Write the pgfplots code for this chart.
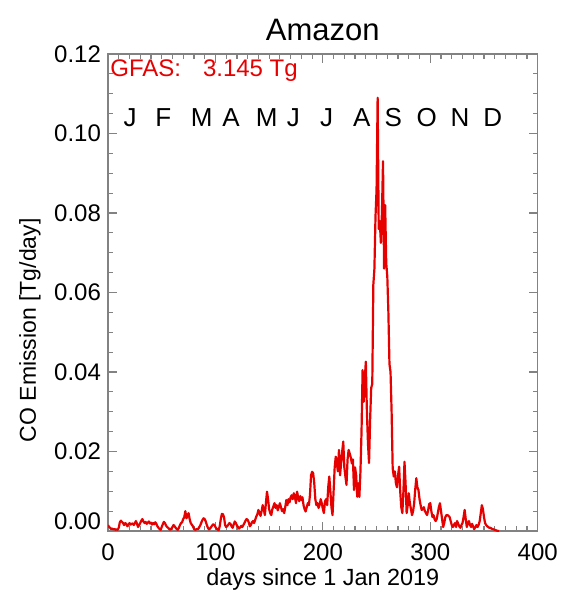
\documentclass[border=0pt]{standalone}
\usepackage{fontspec}
\setmainfont{Liberation Sans}
\usepackage{pgfplots}
\pgfplotsset{compat=1.18}
\definecolor{idlred}{RGB}{230,0,0}
\definecolor{framegray}{RGB}{130,130,130}
\begin{document}
\begin{tikzpicture}
\begin{axis}[
  scale only axis=true,
  width=214.85pt, height=238.5pt,
  xmin=0, xmax=400, ymin=0, ymax=0.12,
  xtick={0,100,200,300,400},
  ytick={0,0.02,0.04,0.06,0.08,0.10,0.12},
  yticklabels={\raisebox{5pt}[\height][\depth]{0.00},0.02,0.04,0.06,0.08,0.10,0.12},
  scaled y ticks=false, scaled x ticks=false,
  minor x tick num=9, minor y tick num=3,
  tick align=inside,
  major tick length=4.5pt, minor tick length=2.5pt,
  axis line style={framegray, line width=0.6pt},
  every tick/.style={framegray, line width=0.6pt},
  /pgf/number format/assume math mode=true,
  tick label style={font=\fontsize{12}{14}\selectfont, black},
  xticklabel style={yshift=-3pt},
  title={Amazon},
  title style={anchor=base, yshift=0.7pt, font=\fontsize{15.5}{18}\selectfont},
  xlabel={days since 1 Jan 2019},
  xlabel style={at={(axis description cs:0.5,0)}, anchor=base, yshift=-27pt, font=\fontsize{11.7}{14}\selectfont},
  ylabel={CO Emission [Tg/day]},
  ylabel style={at={(axis description cs:-0.1815,0.421)}, anchor=center, rotate=0, font=\fontsize{11.5}{14}\selectfont},
  clip=true,
]
\addplot[idlred, line width=1.1pt, no marks, line join=round] coordinates {
(0,0.0015)(1,0.0010)(2,0.0008)(3,0.0005)(4,0.0006)(5,0.0004)(6,0.0005)(7,0.0003)(8,0.0004)(9,0.0003)
(10,0.0008)(11,0.0022)(12,0.0026)(13,0.0023)(14,0.0020)(15,0.0015)(16,0.0020)(17,0.0018)(18,0.0012)(19,0.0015)
(20,0.0020)(21,0.0016)(22,0.0018)(23,0.0019)(24,0.0015)(25,0.0020)(26,0.0025)(27,0.0018)(28,0.0010)(29,0.0015)
(30,0.0020)(31,0.0026)(32,0.0030)(33,0.0024)(34,0.0020)(35,0.0023)(36,0.0018)(37,0.0021)(38,0.0024)(39,0.0019)
(40,0.0021)(41,0.0016)(42,0.0020)(43,0.0017)(44,0.0022)(45,0.0018)(46,0.0012)(47,0.0008)(48,0.0005)(49,0.0003)
(50,0.0010)(51,0.0017)(52,0.0023)(53,0.0020)(54,0.0014)(55,0.0010)(56,0.0008)(57,0.0005)(58,0.0003)(59,0.0006)
(60,0.0010)(61,0.0015)(62,0.0012)(63,0.0008)(64,0.0005)(65,0.0003)(66,0.0008)(67,0.0015)(68,0.0020)(69,0.0022)
(70,0.0030)(71,0.0035)(72,0.0050)(73,0.0032)(74,0.0038)(75,0.0045)(76,0.0030)(77,0.0020)(78,0.0016)(79,0.0012)
(80,0.0006)(81,0.0003)(82,0.0004)(83,0.0005)(84,0.0005)(85,0.0010)(86,0.0015)(87,0.0022)(88,0.0028)(89,0.0032)
(90,0.0030)(91,0.0024)(92,0.0015)(93,0.0008)(94,0.0004)(95,0.0006)(96,0.0010)(97,0.0014)(98,0.0017)(99,0.0015)
(100,0.0010)(101,0.0006)(102,0.0004)(103,0.0002)(104,0.0012)(105,0.0030)(106,0.0043)(107,0.0042)(108,0.0035)(109,0.0015)
(110,0.0010)(111,0.0012)(112,0.0016)(113,0.0020)(114,0.0018)(115,0.0012)(116,0.0008)(117,0.0016)(118,0.0024)(119,0.0020)
(120,0.0014)(121,0.0010)(122,0.0006)(123,0.0009)(124,0.0013)(125,0.0010)(126,0.0015)(127,0.0020)(128,0.0026)(129,0.0030)
(130,0.0028)(131,0.0022)(132,0.0012)(133,0.0015)(134,0.0022)(135,0.0025)(136,0.0020)(137,0.0028)(138,0.0036)(139,0.0042)
(140,0.0053)(141,0.0045)(142,0.0038)(143,0.0050)(144,0.0065)(145,0.0055)(146,0.0040)(147,0.0070)(148,0.0099)(149,0.0080)
(150,0.0055)(151,0.0045)(152,0.0040)(153,0.0055)(154,0.0062)(155,0.0070)(156,0.0058)(157,0.0065)(158,0.0052)(159,0.0060)
(160,0.0070)(161,0.0060)(162,0.0050)(163,0.0055)(164,0.0045)(165,0.0060)(166,0.0078)(167,0.0065)(168,0.0080)(169,0.0072)
(170,0.0085)(171,0.0090)(172,0.0080)(173,0.0095)(174,0.0085)(175,0.0070)(176,0.0099)(177,0.0085)(178,0.0075)(179,0.0088)
(180,0.0078)(181,0.0085)(182,0.0065)(183,0.0055)(184,0.0049)(185,0.0060)(186,0.0070)(187,0.0065)(188,0.0090)(189,0.0140)
(190,0.0149)(191,0.0145)(192,0.0120)(193,0.0080)(194,0.0065)(195,0.0070)(196,0.0058)(197,0.0065)(198,0.0080)(199,0.0070)
(200,0.0055)(201,0.0045)(202,0.0075)(203,0.0080)(204,0.0065)(205,0.0110)(206,0.0137)(207,0.0100)(208,0.0060)(209,0.0040)
(210,0.0100)(211,0.0160)(212,0.0187)(213,0.0170)(214,0.0150)(215,0.0204)(216,0.0140)(217,0.0170)(218,0.0200)(219,0.0225)
(220,0.0160)(221,0.0137)(222,0.0116)(223,0.0180)(224,0.0204)(225,0.0195)(226,0.0185)(227,0.0170)(228,0.0180)(229,0.0103)
(230,0.0160)(231,0.0140)(232,0.0086)(233,0.0120)(234,0.0086)(235,0.0150)(236,0.0250)(237,0.0405)(238,0.0325)(239,0.0380)
(240,0.0426)(241,0.0300)(242,0.0220)(243,0.0171)(244,0.0280)(245,0.0360)(246,0.0370)(247,0.0620)(248,0.0660)(249,0.0790)
(250,0.0860)(251,0.1090)(252,0.0760)(253,0.0780)(254,0.0725)(255,0.0800)(256,0.0930)(257,0.0660)(258,0.0820)(259,0.0674)
(260,0.0640)(261,0.0550)(262,0.0420)(263,0.0400)(264,0.0300)(265,0.0158)(266,0.0137)(267,0.0150)(268,0.0120)(269,0.0110)
(270,0.0140)(271,0.0162)(272,0.0100)(273,0.0060)(274,0.0045)(275,0.0100)(276,0.0174)(277,0.0120)(278,0.0045)(279,0.0065)
(280,0.0095)(281,0.0070)(282,0.0055)(283,0.0040)(284,0.0050)(285,0.0070)(286,0.0105)(287,0.0133)(288,0.0110)(289,0.0103)
(290,0.0080)(291,0.0065)(292,0.0053)(293,0.0055)(294,0.0060)(295,0.0050)(296,0.0045)(297,0.0040)(298,0.0052)(299,0.0068)
(300,0.0070)(301,0.0050)(302,0.0035)(303,0.0040)(304,0.0030)(305,0.0025)(306,0.0030)(307,0.0045)(308,0.0060)(309,0.0070)
(310,0.0050)(311,0.0030)(312,0.0010)(313,0.0020)(314,0.0035)(315,0.0040)(316,0.0040)(317,0.0038)(318,0.0035)(319,0.0025)
(320,0.0015)(321,0.0010)(322,0.0015)(323,0.0020)(324,0.0010)(325,0.0025)(326,0.0018)(327,0.0012)(328,0.0008)(329,0.0015)
(330,0.0020)(331,0.0035)(332,0.0053)(333,0.0030)(334,0.0010)(335,0.0020)(336,0.0025)(337,0.0015)(338,0.0010)(339,0.0018)
(340,0.0010)(341,0.0005)(342,0.0010)(343,0.0015)(344,0.0010)(345,0.0015)(346,0.0025)(347,0.0045)(348,0.0065)(349,0.0055)
(350,0.0035)(351,0.0020)(352,0.0015)(353,0.0012)(354,0.0010)(355,0.0008)(356,0.0008)(357,0.0006)(358,0.0005)(359,0.0004)
(360,0.0003)(361,0.0002)(362,0.0001)(363,0.0000)(364,0.0000)
};
\node[anchor=base west, text=idlred, font=\fontsize{12}{14}\selectfont, inner sep=0pt] at (axis cs:1.8,0.1143) {GFAS:\hspace{11pt}3.145 Tg};
\begin{scope}[every node/.style={anchor=base, inner sep=0pt, font=\fontsize{13}{15}\selectfont}]
\node at (axis cs:20.5,0.1017) {J};
\node at (axis cs:51.5,0.1017) {F};
\node at (axis cs:87.2,0.1017) {M};
\node at (axis cs:114.5,0.1017) {A};
\node at (axis cs:147.7,0.1017) {M};
\node at (axis cs:172.5,0.1017) {J};
\node at (axis cs:203.6,0.1017) {J};
\node at (axis cs:236.2,0.1017) {A};
\node at (axis cs:265.6,0.1017) {S};
\node at (axis cs:296.7,0.1017) {O};
\node at (axis cs:327.7,0.1017) {N};
\node at (axis cs:358.1,0.1017) {D};
\end{scope}
\end{axis}
\pgfresetboundingbox
\path (current axis.south west) ++(-54pt,-31pt) rectangle ++(280.5pt,296.5pt);
\end{tikzpicture}
\end{document}
